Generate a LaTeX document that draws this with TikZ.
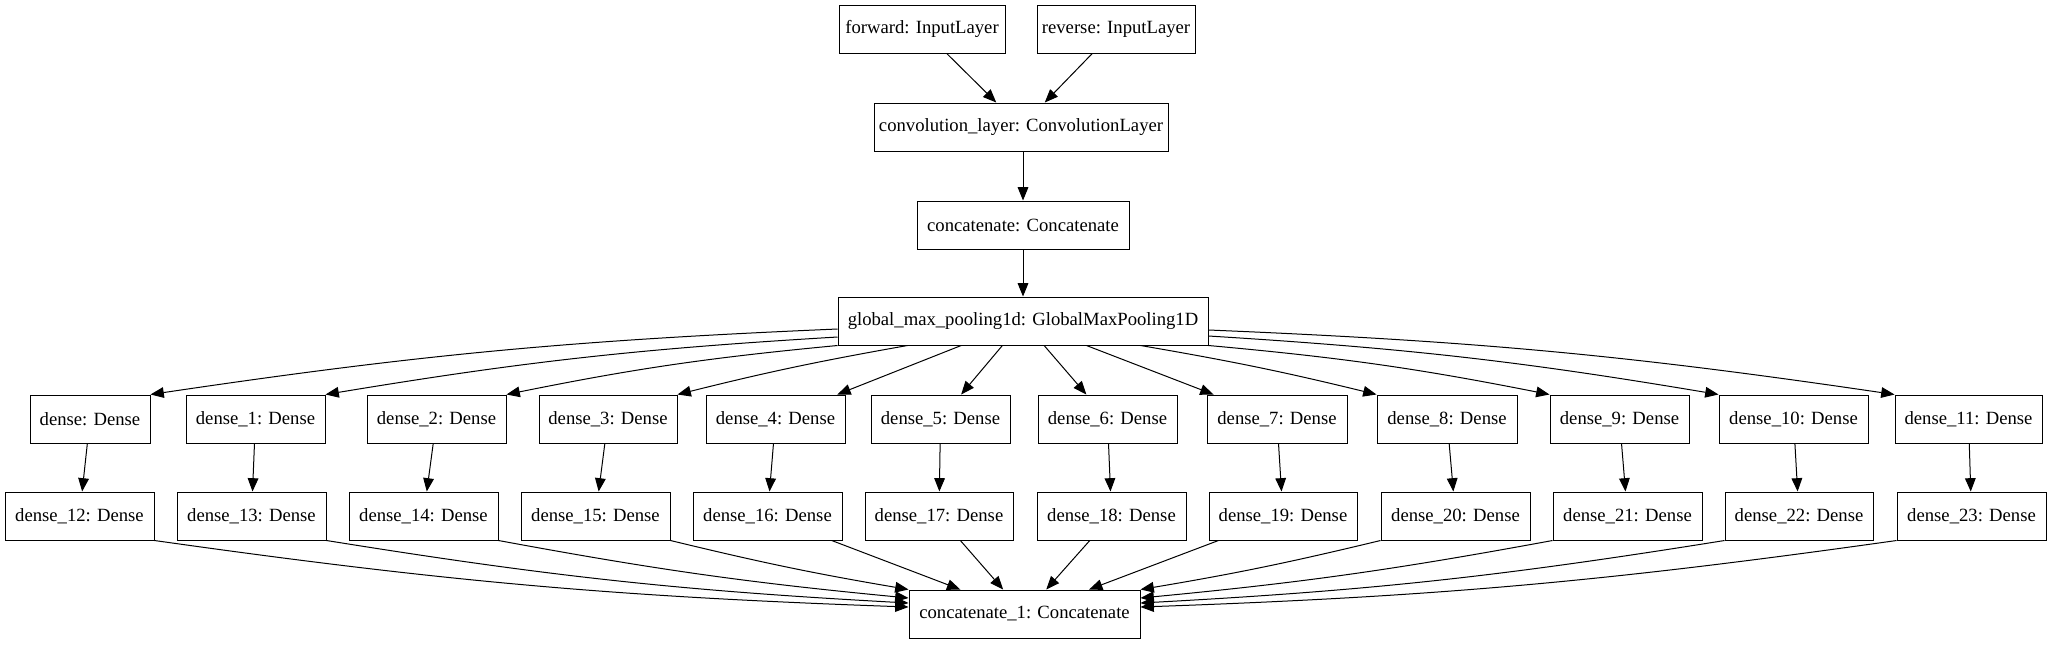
\documentclass[tikz,border=0pt]{standalone}
\usepackage{fontspec}
\setmainfont{Liberation Serif}
\usetikzlibrary{arrows.meta,calc}
\begin{document}
\begin{tikzpicture}[x=0.75pt,y=-0.75pt,
  box/.style={draw, line width=0.75pt, inner sep=0pt, minimum height=36pt,
    font=\fontsize{14}{16}\selectfont},
  wd/.style={minimum width=#1*0.75pt},
  edge/.style={draw, line width=0.75pt, -{Triangle[length=10pt,width=8pt]}}]
\useasboundingbox (0,0) rectangle (2051,644);
% top
\node[box, wd=166] (fwd) at (922,29) {forward: InputLayer};
\node[box, wd=158] (rev) at (1116,29) {reverse: InputLayer};
\node[box, wd=294] (conv) at (1021,127) {convolution\_layer: ConvolutionLayer};
\node[box, wd=212] (cat) at (1023,225) {concatenate: Concatenate};
\node[box, wd=370] (gmp) at (1023,321) {global\_max\_pooling1d: GlobalMaxPooling1D};
% first dense row
\node[box, wd=120] (d0) at (90,419) {dense: Dense};
\node[box, wd=139] (d1) at (255.5,419) {dense\_1: Dense};
\node[box, wd=139] (d2) at (436.5,419) {dense\_2: Dense};
\node[box, wd=138] (d3) at (608,419) {dense\_3: Dense};
\node[box, wd=139] (d4) at (775.5,419) {dense\_4: Dense};
\node[box, wd=139] (d5) at (940.5,419) {dense\_5: Dense};
\node[box, wd=139] (d6) at (1107.5,419) {dense\_6: Dense};
\node[box, wd=140] (d7) at (1277,419) {dense\_7: Dense};
\node[box, wd=140] (d8) at (1447,419) {dense\_8: Dense};
\node[box, wd=139] (d9) at (1619.5,419) {dense\_9: Dense};
\node[box, wd=149] (d10) at (1793.5,419) {dense\_10: Dense};
\node[box, wd=147] (d11) at (1968.5,419) {dense\_11: Dense};
% second dense row
\node[box, wd=149] (d12) at (79.5,516) {dense\_12: Dense};
\node[box, wd=149] (d13) at (251.5,516) {dense\_13: Dense};
\node[box, wd=149] (d14) at (423.5,516) {dense\_14: Dense};
\node[box, wd=149] (d15) at (595.5,516) {dense\_15: Dense};
\node[box, wd=149] (d16) at (767.5,516) {dense\_16: Dense};
\node[box, wd=148] (d17) at (939,516) {dense\_17: Dense};
\node[box, wd=149] (d18) at (1111.5,516) {dense\_18: Dense};
\node[box, wd=148] (d19) at (1283,516) {dense\_19: Dense};
\node[box, wd=149] (d20) at (1455.5,516) {dense\_20: Dense};
\node[box, wd=149] (d21) at (1627.5,516) {dense\_21: Dense};
\node[box, wd=148] (d22) at (1799,516) {dense\_22: Dense};
\node[box, wd=149] (d23) at (1971.5,516) {dense\_23: Dense};
% bottom
\node[box, wd=231] (c1) at (1024.5,614) {concatenate\_1: Concatenate};

% edges top
\draw[edge] (fwd) -- (conv);
\draw[edge] (rev) -- (conv);
\draw[edge] (conv.south -| gmp.north) -- (cat.north -| gmp.north);
\draw[edge] (cat.south -| gmp.north) -- (gmp.north);
% global -> dense row
\draw[edge] ($(gmp.west)+(0,8)$) to[bend right=3] (d0.north east);
\draw[edge] ($(gmp.west)+(0,16)$) to[bend right=3] (d1.north east);
\draw[edge] (gmp.south west) to[bend right=3] (d2.north east);
\draw[edge] ($(gmp.south west)+(70,0)$) to[bend right=2] (d3.north east);
\draw[edge] (gmp) -- (d4);
\draw[edge] (gmp) -- (d5);
\draw[edge] (gmp) -- (d6);
\draw[edge] (gmp) -- (d7);
\draw[edge] ($(gmp.south east)+(-68,0)$) to[bend left=2] (d8.north west);
\draw[edge] (gmp.south east) to[bend left=3] (d9.north west);
\draw[edge] ($(gmp.east)+(0,15)$) to[bend left=3] (d10.north west);
\draw[edge] ($(gmp.east)+(0,9)$) to[bend left=3] (d11.north west);
% dense -> dense
\draw[edge] (d0) -- (d12);
\draw[edge] (d1) -- (d13);
\draw[edge] (d2) -- (d14);
\draw[edge] (d3) -- (d15);
\draw[edge] (d4) -- (d16);
\draw[edge] (d5) -- (d17);
\draw[edge] (d6) -- (d18);
\draw[edge] (d7) -- (d19);
\draw[edge] (d8) -- (d20);
\draw[edge] (d9) -- (d21);
\draw[edge] (d10) -- (d22);
\draw[edge] (d11) -- (d23);
% dense -> concatenate_1
\draw[edge] (d12.south east) to[bend right=3] ($(c1.west)+(0,-7)$);
\draw[edge] (d13.south east) to[bend right=3] ($(c1.west)+(0,-11)$);
\draw[edge] (d14.south east) to[bend right=2.5] ($(c1.west)+(0,-16)$);
\draw[edge] (d15.south east) to[bend right=2] (c1.north west);
\draw[edge] (d16) -- (c1);
\draw[edge] (d17) -- (c1);
\draw[edge] (d18) -- (c1);
\draw[edge] (d19) -- (c1);
\draw[edge] (d20.south west) to[bend left=2] (c1.north east);
\draw[edge] (d21.south west) to[bend left=2.5] ($(c1.east)+(0,-16)$);
\draw[edge] (d22.south west) to[bend left=3] ($(c1.east)+(0,-11)$);
\draw[edge] (d23.south west) to[bend left=3] ($(c1.east)+(0,-7)$);
\end{tikzpicture}
\end{document}
